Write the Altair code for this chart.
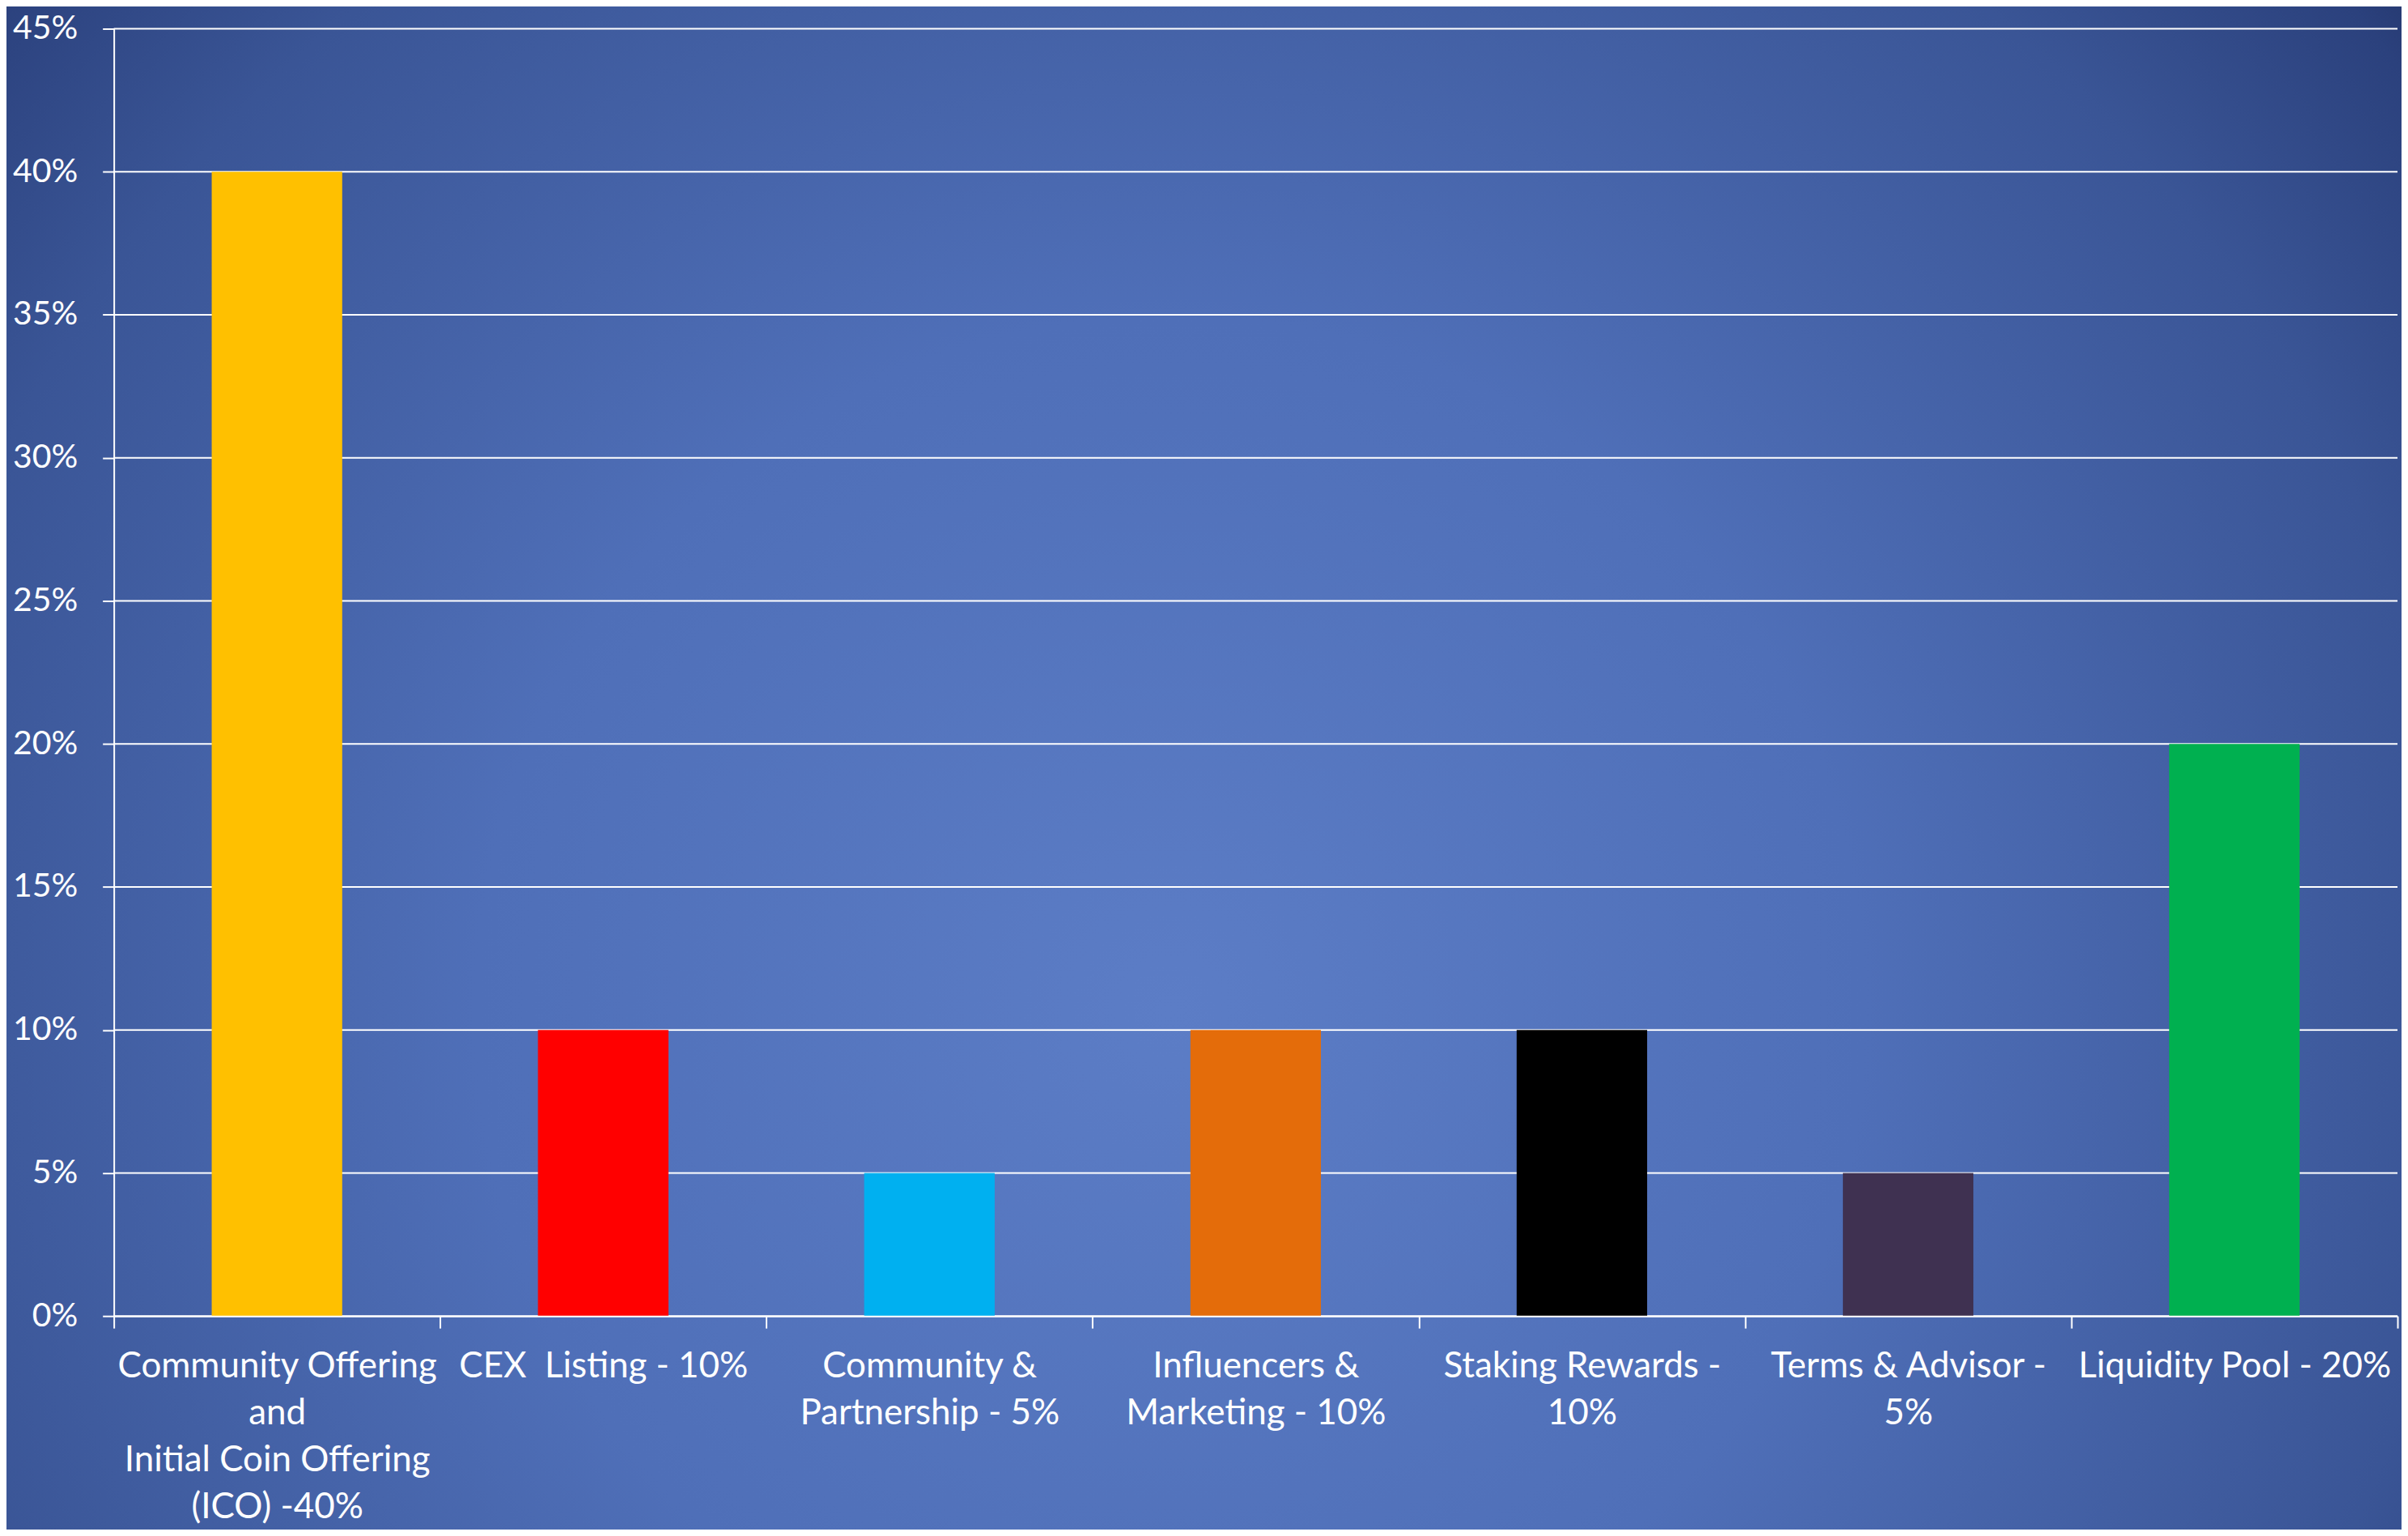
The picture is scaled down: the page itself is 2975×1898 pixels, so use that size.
import altair as alt
import pandas as pd

categories = [
    "Community Offering\nand\nInitial Coin Offering\n(ICO) -40%",
    "CEX\u00a0 Listing - 10%",
    "Community &\nPartnership - 5%",
    "Influencers &\nMarketing - 10%",
    "Staking Rewards -\n10%",
    "Terms & Advisor -\n5%",
    "Liquidity Pool - 20%",
]
values = [0.40, 0.10, 0.05, 0.10, 0.10, 0.05, 0.20]
bar_colors = ["#FFC000", "#FF0000", "#00B0F0", "#E46C0A", "#000000", "#3F3151", "#00B050"]
y_ticks = [0.0, 0.05, 0.10, 0.15, 0.20, 0.25, 0.30, 0.35, 0.40, 0.45]

W, H = 2829, 1595
PAD = {"left": 133, "top": 25, "right": 5, "bottom": 262}
FONT = "Lato"

bars_df = pd.DataFrame({"category": categories, "value": values})
grid_df = pd.DataFrame({"value": y_ticks})

y_axis = alt.Axis(
    values=y_ticks, format=".0%", grid=False, title=None,
    labelFont=FONT, labelFontSize=41, labelColor="#ffffff", labelPadding=31,
    tickColor="#ffffff", tickSize=14, tickWidth=2,
    domainColor="#ffffff", domainWidth=2, zindex=1,
)
y_scale = alt.Scale(domain=[0, 0.45], nice=False)

x_axis = alt.Axis(
    title=None, labelAngle=0, labelFont=FONT, labelFontSize=44,
    labelLineHeight=58, labelColor="#ffffff", labelPadding=26,
    labelBaseline="top", labelLimit=2000, labelOverlap=False, labelBound=False,
    labelExpr="split(datum.label, '\\n')",
    tickColor="#ffffff", tickSize=15, tickWidth=2, tickBand="extent",
    domainColor="#ffffff", domainWidth=2, zindex=1,
)

bg_gradient = alt.RadialGradient(
    gradient="radial",
    x1=0.5, y1=0.5, r1=0, x2=0.5, y2=0.5, r2=0.5,
    stops=[
        alt.GradientStop(offset=0.0, color="#5c7dc6"),
        alt.GradientStop(offset=0.43, color="#4f6fb8"),
        alt.GradientStop(offset=0.80, color="#3a5596"),
        alt.GradientStop(offset=0.96, color="#2b417d"),
        alt.GradientStop(offset=1.0, color="#24376e"),
    ],
)

background = alt.Chart(alt.Data(values=[{"a": 1}])).mark_rect(
    fill=bg_gradient, strokeWidth=0
).encode(
    x=alt.value(-691), x2=alt.value(3309), y=alt.value(-783), y2=alt.value(3217)
)

gridlines = alt.Chart(grid_df).mark_rule(color="#ffffff", strokeWidth=2).encode(
    y=alt.Y("value:Q", scale=y_scale, axis=y_axis)
)

bars = alt.Chart(bars_df).mark_bar(width=alt.RelativeBandSize(0.4)).encode(
    x=alt.X("category:N", sort=categories,
            scale=alt.Scale(paddingInner=0, paddingOuter=0), axis=x_axis),
    y=alt.Y("value:Q", scale=y_scale, axis=y_axis),
    color=alt.Color("category:N", scale=alt.Scale(domain=categories, range=bar_colors), legend=None),
)

chart = alt.layer(background, gridlines, bars).properties(
    width=W, height=H, padding=PAD,
    autosize=alt.AutoSizeParams(type="none"),
    background="#3a5596",
).configure_view(stroke=None)

chart.save("out.html", embed_options={"renderer": "svg", "actions": False})
